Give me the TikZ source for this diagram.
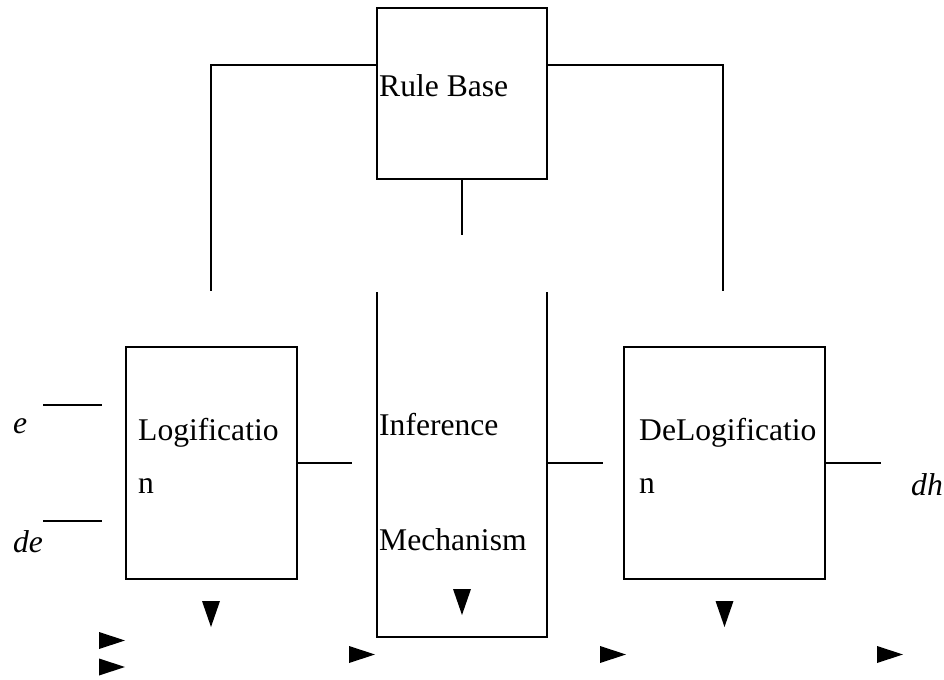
\documentclass[tikz,border=0pt]{standalone}
\usepackage{fontspec}
\setmainfont{Liberation Serif}
\usetikzlibrary{positioning}

\begin{document}
\begin{tikzpicture}[x=0.5pt, y=-0.5pt, line width=1.2pt,
    font=\fontsize{15.8}{19}\selectfont,
    block/.style={draw, rectangle, inner sep=0pt},
    lbl/.style={anchor=base west, inner sep=0pt},
    sig/.style={anchor=base west, inner sep=0pt, font=\fontsize{15.8}{19}\selectfont\itshape}]
    \useasboundingbox (0,0) rectangle (944,680);

    % Blocks
    \node [block, minimum width=85pt,   minimum height=85.5pt] (rule)    at (462,93.5)  {};
    \node [block, minimum width=85.5pt, minimum height=116pt]  (logif)   at (211.5,463) {};
    \node [block, minimum width=100.5pt,minimum height=116pt]  (delogif) at (724.5,463) {};

    % Inference mechanism (open at the top)
    \coordinate (inf-tl) at (377,292);
    \coordinate (inf-tr) at (547,292);
    \coordinate (inf-ml) at (377,580);
    \coordinate (inf-mr) at (547,580);
    \coordinate (inf-bl) at (377,637);
    \coordinate (inf-br) at (547,637);
    \draw (inf-tl) -- (inf-ml);
    \draw (inf-tr) -- (inf-mr);
    \draw [line width=1.4pt] (inf-ml) -- (inf-bl) -- (inf-br) -- (inf-mr);

    % Texts
    \node [lbl] (t-rule)  at (378,97)  {Rule Base};
    \node [lbl] (t-log1)  at (137,440) {Logificatio};
    \node [lbl] (t-log2)  at (137,493) {n};
    \node [lbl] (t-inf1)  at (378,435) {Inference};
    \node [lbl] (t-inf2)  at (378,550) {Mechanism};
    \node [lbl] (t-del1)  at (638,440) {DeLogificatio};
    \node [lbl] (t-del2)  at (638,493) {n};
    \node [sig] (in-e)    at (12,433)  {e};
    \node [sig] (in-de)   at (12,552)  {de};
    \node [sig] (out-dh)  at (910,495) {dh};

    % Free ends of the connectors
    \coordinate (rl-end) at (211,291);
    \coordinate (rr-end) at (723,291);
    \coordinate (rb-end) at (462,235);
    \coordinate (e-end)  at (43,405);
    \coordinate (de-end) at (43,521);
    \coordinate (lo-end) at (352,463);
    \coordinate (di-end) at (603,463);
    \coordinate (dh-end) at (881,463);

    % Paths
    \draw (rule.west |- 0,65) -| (rl-end);
    \draw (rule.east |- 0,65) -| (rr-end);
    \draw (rule.south) -- (rb-end);
    \draw (e-end)  -- (102,405);
    \draw (de-end) -- (102,521);
    \draw (logif.east) -- (lo-end);
    \draw (inf-tr |- logif.east) -- (di-end);
    \draw (delogif.east) -- (dh-end);

    % Arrow heads
    \foreach \x/\y in {211/601, 462/589, 724.5/601}
        \fill (\x-9,\y) -- (\x+9,\y) -- (\x,\y+26) -- cycle;
    \foreach \x/\y in {99/640.5, 99/667, 349/654.5, 600/654.5, 877/654.5}
        \fill (\x,\y-8.5) -- (\x,\y+8.5) -- (\x+26,\y) -- cycle;
\end{tikzpicture}
\end{document}
